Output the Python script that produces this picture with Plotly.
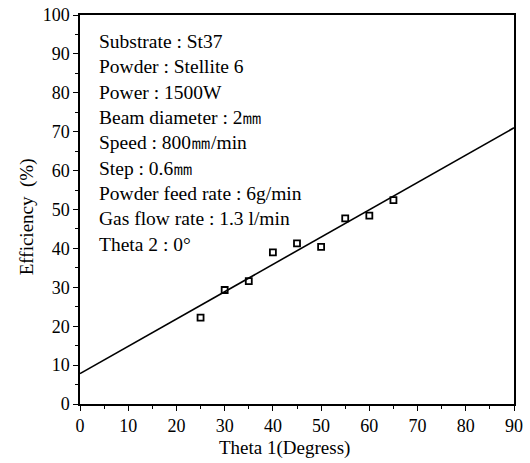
import plotly.graph_objects as go

# Measured deposition efficiency against nozzle angle Theta 1
theta1 = [25, 30, 35, 40, 45, 50, 55, 60, 65]
efficiency = [22.2, 29.3, 31.6, 39.0, 41.3, 40.4, 47.7, 48.4, 52.4]

# Linear fit line end points
fit_x = [0, 90]
fit_y = [7.8, 71.0]

conditions = [
    "Substrate : St37",
    "Powder : Stellite 6",
    "Power : 1500W",
    "Beam diameter : 2㎜",
    "Speed : 800㎜/min",
    "Step : 0.6㎜",
    "Powder feed rate : 6g/min",
    "Gas flow rate : 1.3 l/min",
    "Theta 2 : 0°",
]

x_ticks = list(range(0, 91, 10))
y_ticks = list(range(0, 101, 10))

x_title = "Theta 1(Degress)"
y_title = "Efficiency  (%)"

FONT = "Liberation Serif, DejaVu Serif, serif"

fig = go.Figure()
fig.add_trace(go.Scatter(
    x=fit_x, y=fit_y, mode="lines",
    line=dict(color="black", width=1.6),
    showlegend=False, hoverinfo="skip",
))
fig.add_trace(go.Scatter(
    x=theta1, y=efficiency, mode="markers",
    marker=dict(symbol="square-open", size=6, color="black",
                line=dict(color="black", width=1.8)),
    showlegend=False,
))

# Process conditions block
fig.add_annotation(
    x=0, y=1, xref="paper", yref="paper",
    xanchor="left", yanchor="top", xshift=17, yshift=-14,
    text="<br>".join(conditions), align="left", showarrow=False,
    font=dict(family=FONT, size=19.5, color="black"),
)

# Axis titles
fig.add_annotation(
    x=0.472, y=0, xref="paper", yref="paper",
    xanchor="center", yanchor="middle", yshift=-44,
    text=x_title, showarrow=False,
    font=dict(family=FONT, size=19, color="black"),
)
fig.add_annotation(
    x=0, y=0.48, xref="paper", yref="paper",
    xanchor="center", yanchor="middle", xshift=-53,
    text=y_title, showarrow=False, textangle=-90,
    font=dict(family=FONT, size=19, color="black"),
)

axis_common = dict(
    showgrid=False, zeroline=False, showline=True, linecolor="black",
    linewidth=1.5, mirror=True, ticks="outside", ticklen=5, tickwidth=1.3,
    tickcolor="black", tickfont=dict(family=FONT, size=18, color="black"),
    minor=dict(ticks="outside", ticklen=3, tickwidth=1, tickcolor="black", dtick=5),
)

fig.update_xaxes(
    range=[0, 90], tickvals=x_ticks, ticktext=[str(v) for v in x_ticks],
    **axis_common,
)
fig.update_yaxes(
    range=[0, 100], tickvals=y_ticks, ticktext=[str(v) for v in y_ticks],
    **axis_common,
)

fig.update_layout(
    width=530, height=463,
    margin=dict(l=80, r=16, t=15, b=59, autoexpand=False),
    plot_bgcolor="white", paper_bgcolor="white",
)

fig.write_html("out.html")
